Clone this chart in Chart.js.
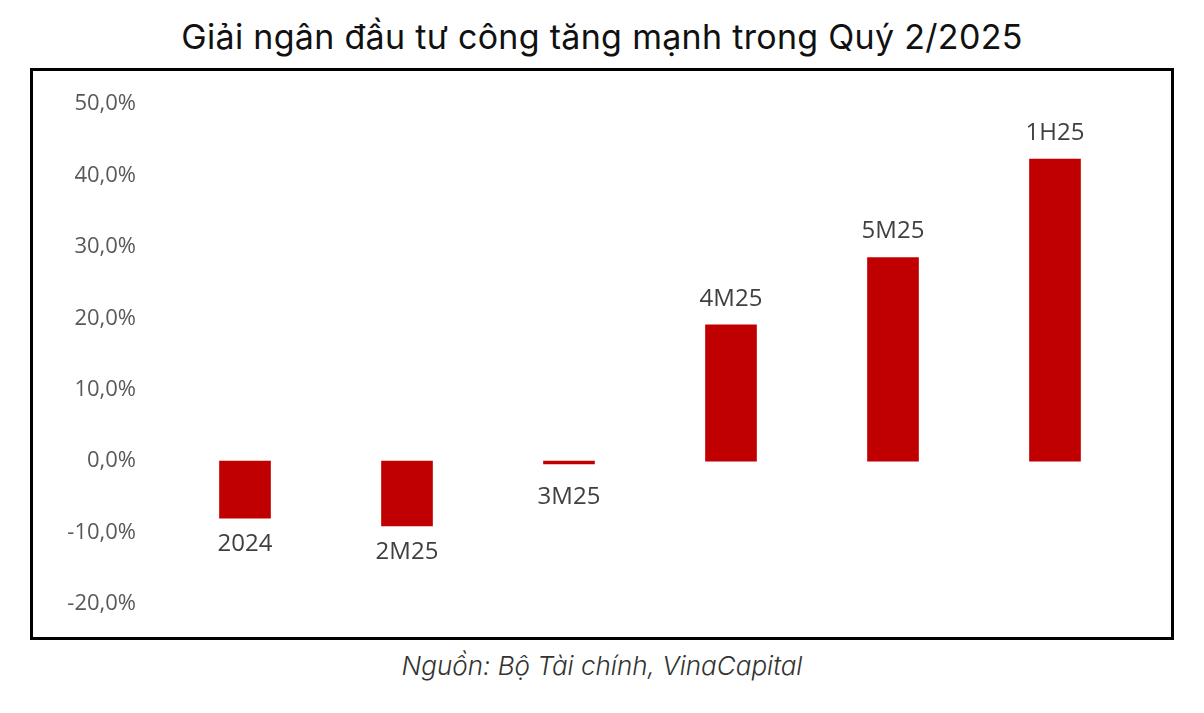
<!DOCTYPE html>
<html>
<head>
<meta charset="utf-8">
<script src="https://cdn.jsdelivr.net/npm/chart.js@4"></script>
<style>
  body { margin: 0; background: #fff; width: 1204px; height: 713px; position: relative; font-family: "Inter", "Noto Sans", sans-serif; }
  #title { position: absolute; top: 16px; left: 0; width: 1204px; text-align: center; font-size: 34px; color: #111; letter-spacing: 0.3px; }
  #box { position: absolute; left: 30px; top: 68px; width: 1138px; height: 566px; border: 3px solid #000; }
  #source { position: absolute; top: 650px; left: 0; width: 1204px; text-align: center; font-size: 26px; font-style: italic; font-weight: 300; color: #333; }
</style>
</head>
<body>
<div id="title">Giải ngân đầu tư công tăng mạnh trong Quý 2/2025</div>
<div id="box"><canvas id="c" width="1138" height="566"></canvas></div>
<div id="source">Nguồn: Bộ Tài chính, VinaCapital</div>
<script>
  const categories = ["2024", "2M25", "3M25", "4M25", "5M25", "1H25"];
  const growth = [-8.0, -9.1, -0.4, 19.1, 28.5, 42.3];
  const yMin = -20, yMax = 50, yStep = 10;

  const barLabels = {
    id: 'barLabels',
    afterDatasetsDraw(chart) {
      const { ctx } = chart;
      const meta = chart.getDatasetMeta(0);
      ctx.save();
      ctx.font = '24px "Open Sans", sans-serif';
      ctx.fillStyle = "#404040";
      ctx.textAlign = "center";
      meta.data.forEach((bar, i) => {
        const v = growth[i];
        if (v >= 0) {
          ctx.textBaseline = "bottom";
          ctx.fillText(categories[i], bar.x, bar.y - 14);
        } else {
          ctx.textBaseline = "top";
          ctx.fillText(categories[i], bar.x, Math.max(bar.y, bar.base + 10) + 14);
        }
      });
      ctx.restore();
    }
  };

  new Chart(document.getElementById("c"), {
    type: 'bar',
    data: {
      labels: categories,
      datasets: [{
        data: growth,
        backgroundColor: "#c00000",
        barThickness: 51
      }]
    },
    options: {
      responsive: false,
      animation: false,
      layout: { padding: { top: 25, bottom: 20, right: 35 } },
      scales: {
        x: { display: false },
        y: {
          min: yMin, max: yMax,
          ticks: {
            stepSize: yStep,
            color: "#595959",
            font: { size: 22, family: '"Open Sans", sans-serif' },
            padding: 20,
            callback: v => v.toFixed(1).replace(".", ",") + "%"
          },
          grid: { display: false },
          border: { display: false },
          afterFit(scale) { scale.width = 131; }
        }
      },
      plugins: { legend: { display: false }, tooltip: { enabled: false } }
    },
    plugins: [barLabels]
  });
</script>
</body>
</html>
